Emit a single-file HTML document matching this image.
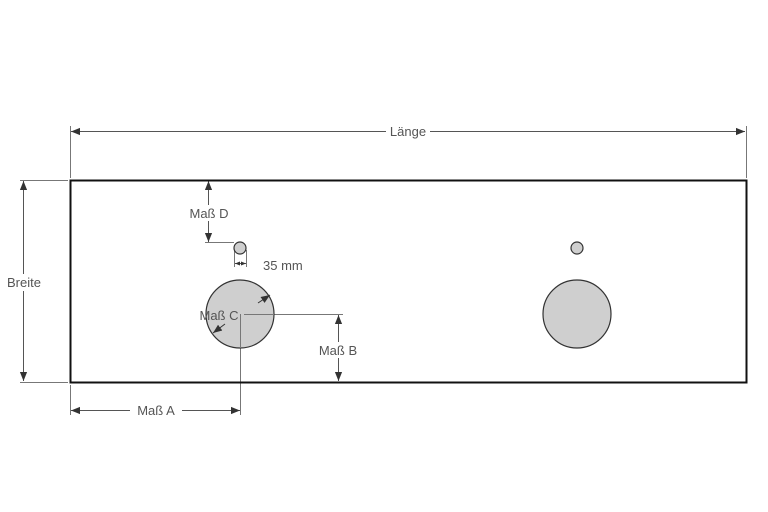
<!DOCTYPE html>
<html><head><meta charset="utf-8"><style>
html,body{margin:0;padding:0;background:#fff;}
svg{display:block}
text{font-family:"Liberation Sans",sans-serif;font-size:13px;fill:#555;}
</style></head><body>
<svg width="768" height="512" viewBox="0 0 768 512" xmlns="http://www.w3.org/2000/svg">
<defs>
<marker id="a" viewBox="0 0 10 10" refX="10" refY="5" markerWidth="9" markerHeight="9" markerUnits="userSpaceOnUse" orient="auto-start-reverse"><path d="M0,1 L10,5 L0,9 z" fill="#333"/></marker>
<marker id="s" viewBox="0 0 10 10" refX="10" refY="5" markerWidth="5" markerHeight="5" markerUnits="userSpaceOnUse" orient="auto-start-reverse"><path d="M0,1 L10,5 L0,9 z" fill="#333"/></marker>
</defs>
<g stroke="#777" stroke-width="1" fill="none">
<!-- extension lines -->
<line x1="70.5" y1="126" x2="70.5" y2="178"/>
<line x1="746.5" y1="126" x2="746.5" y2="178"/>
<line x1="20" y1="180.5" x2="68" y2="180.5"/>
<line x1="20" y1="382.5" x2="68" y2="382.5"/>
<line x1="70.5" y1="385" x2="70.5" y2="415"/>
<line x1="240.5" y1="314" x2="240.5" y2="415"/>
<line x1="244" y1="314.5" x2="343" y2="314.5"/>
<line x1="205" y1="242.5" x2="234" y2="242.5"/>
<line x1="234.5" y1="250" x2="234.5" y2="267"/>
<line x1="246.5" y1="250" x2="246.5" y2="267"/>
</g>
<g stroke="#555" stroke-width="1" fill="none">
<line x1="71" y1="131.5" x2="745" y2="131.5" marker-start="url(#a)" marker-end="url(#a)"/>
<line x1="23.5" y1="181" x2="23.5" y2="381" marker-start="url(#a)" marker-end="url(#a)"/>
<line x1="71" y1="410.5" x2="240" y2="410.5" marker-start="url(#a)" marker-end="url(#a)"/>
<line x1="338.5" y1="315" x2="338.5" y2="381" marker-start="url(#a)" marker-end="url(#a)"/>
<line x1="208.5" y1="181" x2="208.5" y2="242" marker-start="url(#a)" marker-end="url(#a)"/>
<line x1="235" y1="263.5" x2="246" y2="263.5" marker-start="url(#s)" marker-end="url(#s)"/>
</g>
<rect x="70.5" y="180.5" width="676" height="202" fill="none" stroke="#111" stroke-width="2"/>
<g fill="#cfcfcf" stroke="#333" stroke-width="1.2">
<circle cx="240" cy="248" r="6"/>
<circle cx="240" cy="314" r="34"/>
<circle cx="577" cy="248" r="6"/>
<circle cx="577" cy="314" r="34"/>
</g>
<line x1="240.5" y1="314" x2="240.5" y2="348" stroke="#777"/>
<line x1="244" y1="314.5" x2="274" y2="314.5" stroke="#777"/>
<g stroke="#333" stroke-width="1">
<line x1="258" y1="303" x2="270" y2="295" marker-end="url(#a)"/>
<line x1="225" y1="324" x2="213" y2="333" marker-end="url(#a)"/>
</g>
<!-- labels with white bg -->
<rect x="386" y="124" width="44" height="15" fill="#fff"/>
<text x="408" y="136" text-anchor="middle">Länge</text>
<rect x="3" y="274" width="42" height="17" fill="#fff"/>
<text x="24" y="287" text-anchor="middle">Breite</text>
<rect x="130" y="403" width="52" height="15" fill="#fff"/>
<text x="156" y="415" text-anchor="middle">Maß A</text>
<rect x="314" y="342" width="48" height="16" fill="#fff"/>
<text x="338" y="355" text-anchor="middle">Maß B</text>
<rect x="184" y="205" width="50" height="16" fill="#fff"/>
<text x="209" y="218" text-anchor="middle">Maß D</text>
<text x="263" y="270">35 mm</text>
<text x="219" y="320" text-anchor="middle">Maß C</text>
</svg>
</body></html>
